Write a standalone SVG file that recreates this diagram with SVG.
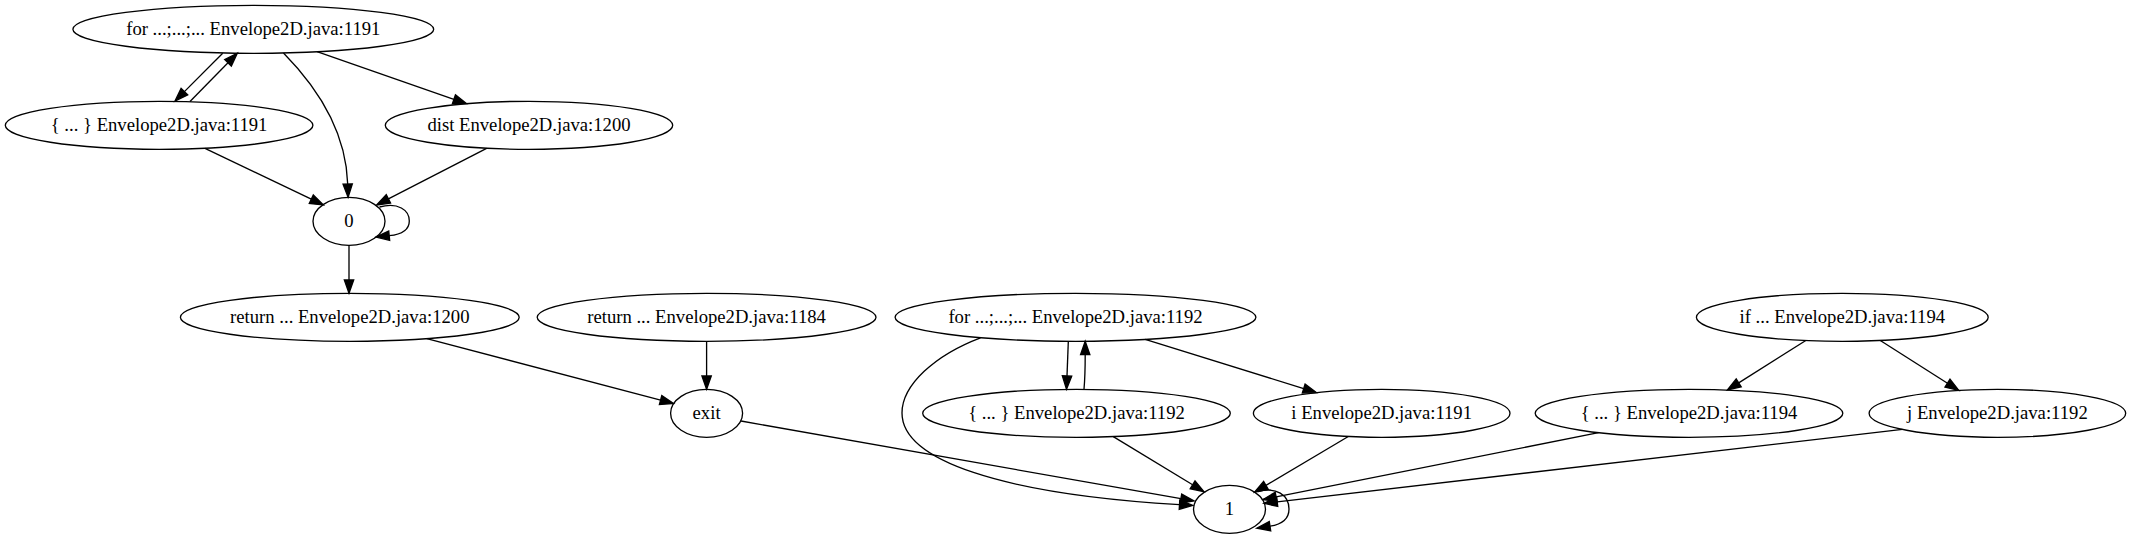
<svg xmlns="http://www.w3.org/2000/svg" width="2131" height="539" viewBox="0 0 2131 539">
<style>
.node ellipse{fill:none;stroke:#000;stroke-width:1.33}
.node text{font-family:"Liberation Serif","Times New Roman",serif;font-size:18.67px;text-anchor:middle;fill:#000}
.edges path{fill:none;stroke:#000;stroke-width:1.33;marker-end:url(#arr)}
</style>
<defs>
<marker id="arr" markerUnits="userSpaceOnUse" viewBox="0 -6 15 12" refX="0" refY="0" markerWidth="15" markerHeight="12" orient="auto" overflow="visible">
<path d="M0,-4.67 L13.33,0 L0,4.67 Z" fill="#000" stroke="#000" stroke-width="1.33"/>
</marker>
</defs>
<rect x="0" y="0" width="2131" height="539" fill="#fff"/>
<g id="edges" class="edges">
<path d="M222.7,53.3 L184.4,91.6"/>
<path d="M190,101.5 L228,62.8"/>
<path d="M283.5,53 C315,85 346,130 347.7,184"/>
<path d="M317,51.7 L453.9,99.3"/>
<path d="M205,148.3 L311.3,199.2"/>
<path d="M486.6,148.3 L388.4,198.9"/>
<path d="M379.5,207 C398,202 409.3,210 409.3,221 C409.3,230 401,234.5 389.2,235.7"/>
<path d="M349,245.3 L349,280"/>
<path d="M426.8,338.7 L660.6,400.1"/>
<path d="M706.6,341.3 L706.6,376"/>
<path d="M741,421 L1180.9,498.7"/>
<path d="M1068.3,341.7 L1067,376"/>
<path d="M1084,389.3 C1085,378 1085.2,366 1085.2,354.7"/>
<path d="M1145.2,339.4 L1303.7,388.6"/>
<path d="M980.5,337.8 C935,355 902,385 902,413 C902,460 1000,494 1179.5,504.7"/>
<path d="M1113.3,436.6 L1192.6,484.8"/>
<path d="M1348.3,436.5 L1266,485.4"/>
<path d="M1598.6,432.7 L1276.1,496.9"/>
<path d="M1902.4,429.4 L1277.2,501.8"/>
<path d="M1258,491.5 C1276,486.5 1289,495 1289,509 C1289,519 1281,524.5 1270,526.2"/>
<path d="M1805.8,340.5 L1738.7,382.9"/>
<path d="M1880.3,340.5 L1947.5,383.2"/>
</g>
<g id="n_for1191" class="node"><ellipse cx="253.3" cy="29.3" rx="180.4" ry="24"/><text x="253.3" y="34.9">for ...;...;... Envelope2D.java:1191</text></g>
<g id="n_block1191" class="node"><ellipse cx="159.1" cy="125.3" rx="153.8" ry="24"/><text x="159.1" y="130.9">{ ... } Envelope2D.java:1191</text></g>
<g id="n_dist1200" class="node"><ellipse cx="529" cy="125.3" rx="143.7" ry="24"/><text x="529" y="130.9">dist Envelope2D.java:1200</text></g>
<g id="n_0" class="node"><ellipse cx="349" cy="221.3" rx="36" ry="24"/><text x="349" y="226.9">0</text></g>
<g id="n_return1200" class="node"><ellipse cx="349.8" cy="317.3" rx="169.4" ry="24"/><text x="349.8" y="322.9">return ... Envelope2D.java:1200</text></g>
<g id="n_return1184" class="node"><ellipse cx="706.6" cy="317.3" rx="169.4" ry="24"/><text x="706.6" y="322.9">return ... Envelope2D.java:1184</text></g>
<g id="n_exit" class="node"><ellipse cx="706.6" cy="413.3" rx="36" ry="24"/><text x="706.6" y="418.9">exit</text></g>
<g id="n_for1192" class="node"><ellipse cx="1075.5" cy="317.3" rx="180.4" ry="24"/><text x="1075.5" y="322.9">for ...;...;... Envelope2D.java:1192</text></g>
<g id="n_block1192" class="node"><ellipse cx="1076.5" cy="413.3" rx="153.8" ry="24"/><text x="1076.5" y="418.9">{ ... } Envelope2D.java:1192</text></g>
<g id="n_i1191" class="node"><ellipse cx="1381.7" cy="413.3" rx="128.3" ry="24"/><text x="1381.7" y="418.9">i Envelope2D.java:1191</text></g>
<g id="n_if1194" class="node"><ellipse cx="1842.3" cy="317.3" rx="145.9" ry="24"/><text x="1842.3" y="322.9">if ... Envelope2D.java:1194</text></g>
<g id="n_block1194" class="node"><ellipse cx="1689" cy="413.3" rx="153.8" ry="24"/><text x="1689" y="418.9">{ ... } Envelope2D.java:1194</text></g>
<g id="n_j1192" class="node"><ellipse cx="1997.4" cy="413.3" rx="128.3" ry="24"/><text x="1997.4" y="418.9">j Envelope2D.java:1192</text></g>
<g id="n_1" class="node"><ellipse cx="1229.5" cy="509.3" rx="36" ry="24"/><text x="1229.5" y="514.9">1</text></g>
</svg>
